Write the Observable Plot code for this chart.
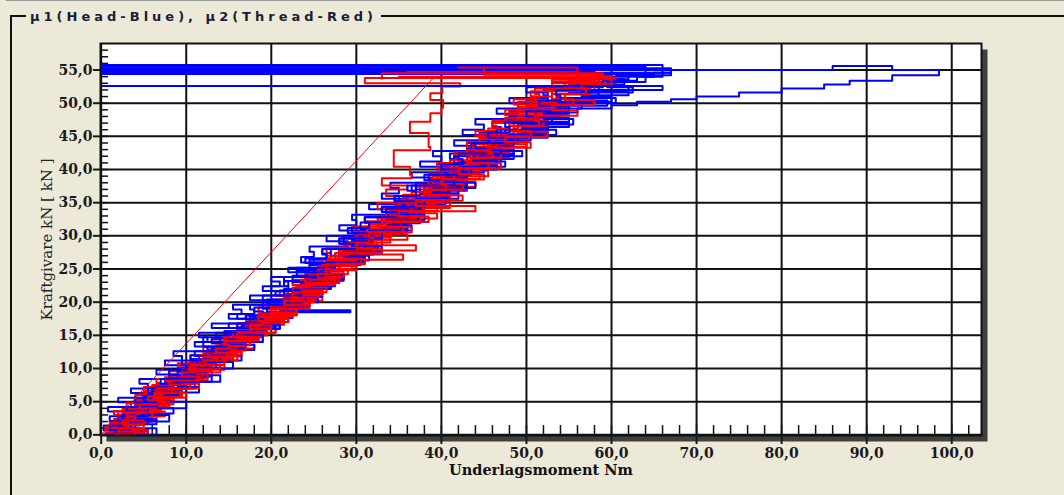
<!DOCTYPE html>
<html><head><meta charset="utf-8">
<script src="https://cdn.jsdelivr.net/npm/d3@7"></script>
<script src="https://cdn.jsdelivr.net/npm/@observablehq/plot@0.6"></script>
<style>
html,body{margin:0;padding:0;background:#ece9d8;}
#wrap{position:relative;width:1064px;height:495px;overflow:hidden;background:#ece9d8;}
#topline{position:absolute;left:6px;top:0;width:1058px;height:1px;background:#9a9a9a;}
#box{position:absolute;left:10px;top:15px;width:1060px;height:490px;border-left:2px solid #111;border-top:2px solid #111;}
#title{position:absolute;left:26px;top:8px;padding:0 4px 0 4px;background:#ece9d8;font:bold 13px "DejaVu Sans";letter-spacing:4px;color:#1c1c38;white-space:nowrap;line-height:18px;}
#chart{position:absolute;left:0;top:0;}
</style>
</head><body>
<div id="wrap">
<div id="topline"></div>
<div id="box"></div>
<div id="title"></div>
<div id="chart"></div>
</div>
<script>
const titleText = "μ1(Head-Blue), μ2(Thread-Red)";
const xTitle = "Underlagsmoment Nm";
const yTitle = "Kraftgivare kN [ kN ]";
const xTicks = [0,10,20,30,40,50,60,70,80,90,100];
const xTickLabels = ["0,0","10,0","20,0","30,0","40,0","50,0","60,0","70,0","80,0","90,0","100,0"];
const yTicks = [0,5,10,15,20,25,30,35,40,45,50,55];
const yTickLabels = ["0,0","5,0","10,0","15,0","20,0","25,0","30,0","35,0","40,0","45,0","50,0","55,0"];
const xMinor = [0,2,4,6,8,10,12,14,16,18,20,22,24,26,28,30,32,34,36,38,40,42,44,46,48,50,52,54,56,58,60,62,64,66,68,70,72,74,76,78,80,82,84,86,88,90,92,94,96,98,100,102];
const yMinor = [0,1,2,3,4,5,6,7,8,9,10,11,12,13,14,15,16,17,18,19,20,21,22,23,24,25,26,27,28,29,30,31,32,33,34,35,36,37,38,39,40,41,42,43,44,45,46,47,48,49,50,51,52,53,54,55,56,57,58];

// Head (blue) traces: [torque Nm, force kN]
const blue1 = [[0,0],[2.5,0.7],[0.3,1.4],[3.5,2.1],[1,2.8],[2.8,3.5],[0.8,4.2],[4,4.9],[2,5.6],[6,6.3],[3.5,7],[5.5,7.7],[4.5,8.4],[9,9.1],[6.5,9.8],[10.5,10.5],[7.5,11.2],[9.5,11.9],[8.5,12.6],[13.5,13.3],[11,14],[12.5,14.7],[11.5,15.4],[16,16.1],[13,16.8],[17.5,17.5],[15,18.2],[16.5,18.9],[15.5,19.6],[20,20.3],[17.5,21],[22.5,21.7],[19,22.4],[21,23.1],[20,23.8],[24.5,24.5],[22,25.2],[26,26],[23.5,26.8],[25,27.6],[24.5,28.4],[29,29.2],[26.5,30],[31,30.8],[28,31.6],[30,32.4],[29.5,33.2],[34.5,34],[31.5,34.8],[36,35.6],[33,36.4],[35,37.2],[34,38],[39,38.8],[36.5,39.6],[41,40.4],[37.5,41.2],[40,42],[39,42.8],[44,43.6],[41.5,44.4],[46,45.2],[42.5,46],[45,46.8],[44,47.6],[49,48.4],[46.5,49.2],[51,50],[48,50.8],[52.5,51.6],[50,52.4],[55,53.2],[53,54],[58,54.8],[0,54.8]];
const blue2 = [[1,0],[4.5,0.6],[1.5,1.2],[3,1.8],[2.5,2.4],[6,3],[3,3.6],[5,4.2],[4,4.8],[8,5.4],[5,6],[9.5,6.6],[6.5,7.2],[8,7.8],[7.5,8.4],[12,9],[9,9.6],[13,10.2],[10,10.8],[11.5,11.4],[10.5,12],[15.5,12.6],[12.5,13.2],[17,13.8],[13,14.4],[15,15],[14.5,15.6],[19,16.2],[16,16.8],[20.5,17.4],[17,18],[19,18.6],[18,19.2],[22.5,19.8],[19.5,20.4],[24,21],[20.5,21.6],[22,22.4],[21.5,23.2],[26,24],[23,24.8],[28,25.6],[24.5,26.4],[26.5,27.2],[26,28],[31,28.8],[28,29.6],[33,30.4],[29.5,31.2],[31.5,32],[31,32.8],[36,33.6],[33,34.4],[38,35.2],[34.5,36],[37,36.8],[36,37.6],[41,38.4],[38,39.2],[43,40],[39.5,40.8],[42,41.6],[41,42.4],[46,43.2],[43,44],[48,44.8],[44.5,45.6],[47,46.4],[46,47.2],[51,48],[48,48.8],[53.5,49.6],[50,50.4],[52.5,51.2],[52,52],[57.5,52.8],[55,53.6],[62,54.4],[64,55.5],[0,55.5]];
const blue3 = [[2,0],[5,0.7],[2.5,1.4],[4.5,2.1],[3.5,2.8],[7,3.5],[4.5,4.2],[8,4.9],[5,5.6],[7,6.3],[6.5,7],[11,7.7],[8,8.4],[12,9.1],[9.5,9.8],[11.5,10.5],[11,11.2],[15.5,11.9],[12.5,12.6],[16.5,13.3],[14,14],[12,14.7],[15,15],[19.5,15.7],[16.5,16.4],[20.5,17.1],[17.5,17.8],[19.5,18.5],[29.3,18.8],[21,19.3],[24.5,20],[21.5,20.7],[23,21.4],[22.5,22.1],[27,22.8],[24,23.5],[28.5,24.2],[25,24.9],[27,25.6],[26.5,26.3],[31.5,27],[28.5,27.7],[32.5,28.4],[29.5,29.1],[31.5,29.8],[31,30.5],[36,31.2],[33,31.9],[37.5,32.6],[34,33.3],[36,34],[35.5,34.8],[40.5,35.6],[37.5,36.4],[42,37.2],[38.5,38],[41,38.8],[40,39.6],[45,40.4],[42,41.2],[47,42],[43.5,42.8],[46,43.6],[45.5,44.4],[50.5,45.2],[47.5,46],[52.5,46.8],[49,47.6],[51.5,48.4],[51,49.2],[56.5,50],[53.5,50.8],[58.5,51.6],[55,52.4],[59,53.2],[58,54],[65,54.6],[67,55.25],[0,55.25]];
const blue4 = [[3,0],[5.5,0.8],[3,1.6],[6.5,2.4],[4.5,3.2],[8.5,4],[5.5,4.8],[7.5,5.6],[7,6.4],[11.5,7.2],[9,8],[13,8.8],[10,9.6],[12.5,10.4],[12,11.2],[16.5,12],[14,12.8],[18,13.6],[15,14.4],[17.5,15.2],[17,16],[21,16.8],[18.5,17.6],[22.5,18.4],[19.5,19.2],[22,20],[21.5,20.8],[26,21.6],[23,22.4],[27.5,23.2],[24.5,24],[26.5,24.8],[26,25.6],[30.5,26.4],[28,27.2],[32,28],[29,28.8],[31.5,29.6],[31,30.4],[35.5,31.2],[33,32],[37.5,32.8],[34,33.6],[36.5,34.4],[36,35.2],[41,36],[38,36.8],[43,37.6],[39.5,38.4],[42,39.2],[41.5,40],[46.5,40.8],[43.5,41.6],[48.5,42.4],[45,43.2],[47.5,44],[47,44.8],[52.5,45.6],[49.5,46.4],[55,47.2],[51,48],[54,48.8],[53.5,49.6],[59.5,50.4],[56.5,51.2],[62,52],[58.5,52.8],[61.5,53.6],[60.5,54.2],[67,54.6],[0,54.6]];
const blue5 = [[4,0],[6.5,1],[3.5,2],[8,3],[5.5,4],[10,5],[7.5,6],[9,7],[8.5,8],[14,9],[11,10],[15.5,11],[12.5,12],[14.5,13],[14,14],[19,15],[16,16],[20.5,17],[17.5,18],[19.5,19],[19,20],[24,21],[21.5,22],[25.5,23],[22.5,24],[25,25],[24.5,26],[29.5,27],[27,28],[31.5,29],[28.5,30],[31,31],[30.5,32],[36,33],[33.5,34],[38,35],[35,36],[37.5,37],[37,38],[42.5,39],[40,40],[44.5,41],[41.5,42],[44,43],[43.5,44],[49,45],[46.5,46],[51.5,47],[48,48],[53,48.6],[56,49.2],[60,49.7],[63,50.2],[67,50.6],[70,51],[75,51.6],[80,52.2],[85,52.8],[88,53.4],[93,54.2],[98.5,55],[93,55.6],[86,55],[0,55]];
const blue6 = [[0.5,0],[3.5,0.7],[1,1.4],[2.5,2.1],[2,2.8],[5.5,3.5],[3,4.2],[6.5,4.9],[4,5.6],[6,6.3],[5.5,7],[9.5,7.7],[7,8.4],[11,9.1],[8,9.8],[10,10.5],[9.5,11.2],[14,11.9],[11,12.6],[15,13.3],[12,14],[14,14.7],[13.5,15.4],[18,16.1],[15,16.8],[19,17.5],[16,18.2],[18,18.9],[17.5,19.6],[22,20.3],[19,21],[23.5,21.7],[20,22.4],[22,23.1],[21.5,23.8],[26,24.5],[23,25.2],[27.5,25.9],[24,26.6],[26.5,27.3],[26,28],[31,28.8],[28,29.6],[33,30.4],[29,31.2],[31.5,32],[31,32.8],[36,33.6],[33,34.4],[38,35.2],[34.5,36],[37,36.8],[36.5,37.6],[41.5,38.4],[38.5,39.2],[43.5,40],[40,40.8],[42.5,41.6],[42,42.4],[47,43.2],[44,44],[49,44.8],[45.5,45.6],[48,46.4],[47.5,47.2],[53,48],[50,48.8],[55,49.6],[51.5,50.4],[54,51.2],[53.5,52],[66,52.6],[0,52.6]];
const blue7 = [[1.5,0.2],[4,0.9],[2,1.6],[5.5,2.3],[2.5,3],[4.5,3.7],[4,4.4],[7.5,5.1],[5,5.8],[9,6.5],[6.5,7.2],[8.5,7.9],[8,8.6],[12.5,9.3],[10,10],[13.5,10.7],[11,11.4],[13,12.1],[12.5,12.8],[17,13.5],[14.5,14.2],[18,14.9],[15.5,15.6],[17.5,16.3],[17,17],[21.5,17.7],[19,18.4],[22.5,19.1],[20,19.8],[22,20.5],[21.5,21.2],[26,22],[23.5,22.8],[27.5,23.6],[24.5,24.4],[27,25.2],[26.5,26],[31,26.8],[28.5,27.6],[33,28.4],[29.5,29.2],[32,30],[31.5,30.8],[36.5,31.6],[33.5,32.4],[38,33.2],[35,34],[37.5,34.8],[37,35.6],[42,36.4],[39,37.2],[44,38],[40.5,38.8],[43,39.6],[42.5,40.4],[47.5,41.2],[44.5,42],[49.5,42.8],[46,43.6],[48.5,44.4],[48,45.2],[53.5,46],[50.5,46.8],[55.5,47.6],[52,48.4],[55,49.2],[54.5,50],[60.5,50.8],[57,51.6],[62.5,52.4],[59.5,53.2],[64,54],[66,55.75],[0,55.75]];
const blue8 = [[1,0],[5,0.5],[2,1],[4,1.5],[1.5,2],[6,2.5],[3.5,3],[5,3.5],[3,4],[7.5,4.5],[4.5,5],[8,5.5],[5.5,6],[7,6.5],[6,7],[10,7.5],[7.5,8],[11,8.5],[8,9],[10,9.5],[9,10],[14,10.5],[10.5,11],[15,11.5],[12,12],[13.5,12.5],[13,13],[17,13.5],[14,14],[18.5,14.5],[15.5,15],[17,15.5],[16,16],[21,16.5],[17.5,17],[22,17.5],[18.5,18],[20.5,18.5],[19.5,19],[24,19.5],[21,20],[25.5,20.5],[21.5,21],[23.5,21.5],[22.5,22],[27,22.7],[24,23.4],[28.5,24.1],[25,24.8],[27,25.5],[26.5,26.2],[31,27],[28,27.8],[32.5,28.6],[29.5,29.4],[31.5,30.2],[31,31],[36,31.8],[33,32.6],[37.5,33.4],[34.5,34.2],[36.5,35],[36,35.8],[41,36.6],[38,37.4],[43,38.2],[39.5,39],[42,39.8],[41.5,40.6],[46.5,41.4],[43.5,42.2],[48.5,43],[45,43.8],[47.5,44.6],[47,45.4],[52.5,46.2],[49.5,47],[55,47.8],[51,48.6],[54,49.4],[53.5,50.2],[60,51],[56.5,51.8],[62,52.6],[59,53.4],[63,54],[65,54.4],[0,54.4]];

// Thread (red) traces
const red1 = [[0,0],[3,0.6],[0.5,1.2],[2,1.8],[1.5,2.4],[4.5,3],[1.5,3.6],[3.5,4.2],[3,4.8],[6.5,5.4],[4,6],[8,6.6],[5,7.2],[7,7.8],[6.5,8.4],[10.5,9],[8,9.6],[12,10.2],[9,10.8],[11,11.4],[10.5,12],[14.5,12.6],[12,13.2],[16,13.8],[13,14.4],[15,15],[14.5,15.6],[18.5,16.2],[16,16.8],[20,17.4],[17,18],[19,18.6],[18.5,19.2],[22.5,19.8],[20,20.4],[24,21],[21,21.8],[23,22.6],[22.5,23.4],[26.5,24.2],[24,25],[28,25.8],[25,26.6],[27,27.4],[26.5,28.2],[31,29],[28.5,29.8],[32,30.6],[29.5,31.4],[33,32.2],[31,33],[35,34],[32.5,35],[36,36],[33.5,37],[36,37.6],[33,38.7],[36.5,39.2],[36.3,40.4],[34.4,42.9],[38.7,43.4],[38.5,45.5],[36.3,47.2],[38.7,48.5],[40,49.3],[40.2,50.5],[38.7,51.5],[40.1,52.5],[42.2,53],[31,53.8],[56,55.2],[40,55.2]];
const red2 = [[1,0],[4.5,0.6],[1.5,1.2],[3,1.8],[2.5,2.4],[5.5,3],[2,3.6],[4,4.2],[3.5,4.8],[7.5,5.4],[5,6],[9,6.6],[6,7.2],[8,7.8],[7.5,8.4],[11.5,9],[9,9.6],[13,10.2],[10,10.8],[12,11.4],[11.5,12],[15.5,12.6],[13,13.2],[17,13.8],[14,14.4],[16,15],[15.5,15.6],[19.5,16.2],[17,16.8],[21,17.4],[18,18],[20,18.6],[19.5,19.2],[23.5,19.8],[21,20.4],[25,21],[22,21.8],[24,22.6],[23.5,23.4],[27.5,24.2],[25,25],[29.5,25.8],[26,26.6],[28.5,27.4],[28,28.2],[32.5,29],[29.5,29.8],[34,30.6],[31,31.4],[33.5,32.2],[33,33],[37.5,33.8],[34.5,34.6],[39,35.4],[35.5,36.2],[38,37],[37.5,37.8],[41.5,38.6],[38.5,39.4],[43,40.2],[39.5,41],[42,41.8],[41.5,42.6],[46,43.4],[43,44.2],[47.5,45],[44,45.8],[46.5,46.6],[46,47.4],[50.5,48.2],[47.5,49],[52,49.8],[48.5,50.6],[51.5,51.4],[51,52.2],[55.5,53],[53,53.6],[58,54.2],[60,55.3],[39.5,55.3]];
const red3 = [[2,0],[5.4,0.5],[2.5,1],[4,1.6],[3.5,2.2],[6.5,2.8],[3.5,3.4],[5.5,4],[5,4.6],[8.5,5.2],[6,5.8],[9.5,6.4],[7,7],[9,7.6],[8.5,8.2],[12.5,8.8],[10,9.4],[14,10],[11,10.6],[13,11.2],[12.5,11.8],[16.5,12.4],[14,13],[18,13.6],[15,14.2],[17,14.8],[16.5,15.4],[20.5,16],[18,16.6],[21.5,17.2],[19,17.8],[21,18.4],[20.5,19],[24.5,19.6],[22,20.2],[26,20.8],[23,21.6],[25,22.4],[24.5,23.2],[28.5,24],[26,24.8],[30,25.6],[27,26.4],[35.5,27.2],[30,27.8],[37,28.6],[33,29.4],[36,30.2],[32,31],[35,31.8],[34.5,32.6],[39.5,33.4],[36.5,34.2],[41,35],[37.5,35.8],[40,36.6],[39.5,37.4],[44,38.2],[41,39],[45.5,39.8],[42,40.6],[44.5,41.4],[44,42.2],[48.5,43],[45.5,43.8],[50,44.6],[46.5,45.4],[49,46.2],[48.5,47],[53,47.8],[50,48.6],[55,49.4],[51.5,50.2],[54,51],[53.5,51.8],[58,52.6],[55.5,53.3],[60,54],[35,54]];
const red4 = [[3,0],[5.5,0.7],[2,1.4],[4,2.1],[3.5,2.8],[7.5,3.5],[4.5,4.2],[6.5,4.9],[6,5.6],[10,6.3],[7.5,7],[11.5,7.7],[8.5,8.4],[10.5,9.1],[10,9.8],[14.5,10.5],[12,11.2],[16,11.9],[13,12.6],[15,13.3],[14.5,14],[19,14.7],[16,15.4],[20.5,16.1],[17.5,16.8],[19.5,17.5],[19,18.2],[23,18.9],[20.5,19.6],[24.5,20.3],[21.5,21],[23.5,21.8],[23,22.6],[27.5,23.4],[25,24.2],[29,25],[26,25.8],[28,26.6],[27.5,27.4],[32,28.2],[29.5,29],[34,29.8],[30.5,30.6],[33,31.4],[32.5,32.2],[37.5,33],[34.5,33.8],[39.5,34.6],[36,35.4],[38.5,36.2],[38,37],[43,37.8],[40,38.6],[44.5,39.4],[41,40.2],[43.5,41],[43,41.8],[48,42.6],[45,43.4],[50,44.2],[46,45],[48.5,45.8],[48,46.6],[52.5,47.4],[49.5,48.2],[54.5,49],[51,49.8],[53.5,50.6],[53,51.4],[57.5,52.2],[55,53],[60.5,53.8],[58,54.4],[38,54.6]];
const red5 = [[0.5,0.3],[5,0.9],[1,1.5],[2.5,2.1],[2,2.7],[6,3.3],[2.5,3.9],[4.5,4.5],[4,5.1],[7.5,5.7],[5,6.3],[9,6.9],[6,7.5],[8,8.1],[7.5,8.7],[12,9.3],[9.5,9.9],[13.5,10.5],[10.5,11.1],[12.5,11.7],[12,12.3],[16,12.9],[13.5,13.5],[17.5,14.1],[14.5,14.7],[16.5,15.3],[16,15.9],[20,16.5],[17.5,17.1],[21.5,17.7],[18.5,18.3],[20.5,18.9],[20,19.5],[24,20.1],[21.5,20.7],[25.5,21.4],[22.5,22.2],[24.5,23],[24,23.8],[28.5,24.6],[25.5,25.4],[30,26.2],[26.5,27],[29,27.8],[28.5,28.6],[33,29.4],[30,30.2],[35,31],[31.5,31.8],[34,32.6],[33.5,33.4],[38,34.2],[35,35],[40,35.8],[36.5,36.6],[39,37.4],[38.5,38.2],[43,39],[40,39.8],[44.5,40.6],[41,41.4],[43.5,42.2],[43,43],[47.5,43.8],[44.5,44.6],[49,45.4],[45.5,46.2],[48,47],[47.5,47.8],[52,48.6],[49,49.4],[53.5,50.2],[50.5,51],[53,51.8],[52.5,52.6],[57,53.3],[55,53.9],[59,54.5],[33,53.7]];
const red6 = [[1.5,0.1],[4,0.8],[1,1.5],[5,2.2],[3,2.9],[4.5,3.6],[4,4.3],[8,5],[5.5,5.7],[9.5,6.4],[6.5,7.1],[8.5,7.8],[8,8.5],[12.5,9.2],[10,9.9],[14,10.6],[11,11.3],[13,12],[12.5,12.7],[17,13.4],[14.5,14.1],[18,14.8],[15.5,15.5],[17.5,16.2],[17,16.9],[21.5,17.6],[19,18.3],[23,19],[20,19.7],[22,20.4],[21.5,21.1],[26,21.8],[23.5,22.6],[27.5,23.4],[24.5,24.2],[26.5,25],[26,25.8],[30.5,26.6],[28,27.4],[32,28.2],[29,29],[31.5,29.8],[31,30.6],[35.5,31.4],[33,32.2],[37.5,33],[34,33.8],[36.5,34.6],[36,35.4],[41,36.2],[38,37],[42.5,37.8],[39,38.6],[41.5,39.4],[41,40.2],[45.5,41],[43,41.8],[47,42.6],[44,43.4],[46.5,44.2],[46,45],[50.5,45.8],[48,46.6],[52,47.4],[49,48.2],[51.5,49],[51,49.8],[55.5,50.6],[53,51.4],[57,52.2],[54.5,53],[58.5,53.6],[56,55.4],[42,55.4]];
const red7 = [[0.5,0.2],[4.5,0.6],[1.5,1],[3,1.4],[1,1.8],[5.5,2.2],[2.5,2.6],[4,3],[3.5,3.4],[7,3.8],[4,4.2],[6,4.6],[5,5],[8.5,5.5],[6,6],[9.5,6.5],[7,7],[8.5,7.5],[8,8],[12,8.5],[9.5,9],[13,9.5],[10.5,10],[12,10.5],[11.5,11],[15.5,11.5],[12.5,12],[16.5,12.5],[13.5,13],[15,13.5],[14.5,14],[18.5,14.5],[16,15],[19.5,15.5],[16.5,16],[18.5,16.5],[18,17],[22,17.5],[19,18],[23,18.5],[20,19],[21.5,19.5],[21,20],[25,20.6],[22,21.2],[26,21.8],[23,22.4],[24.5,23],[24,23.6],[28,24.3],[25.5,25],[29.5,25.7],[26.5,26.4],[28.5,27.1],[28,27.8],[32.5,28.6],[30,29.4],[34,30.2],[31,31],[33,31.8],[32.5,32.6],[37,33.4],[34.5,34.2],[38.5,35],[35.5,35.8],[37.5,36.6],[37,37.4],[41.5,38.2],[39,39],[43,39.8],[40,40.6],[42,41.4],[41.5,42.2],[46,43],[43.5,43.8],[47.5,44.6],[44.5,45.4],[46.5,46.2],[46,47],[50.5,47.8],[48,48.6],[52,49.4],[49,50.2],[51,51],[50.5,51.8],[55,52.6],[53,53.3],[57.5,54],[56,54.8],[36,54.8]];
const red8 = [[1.5,0],[4,0.5],[2,1],[5,1.6],[2.5,2.2],[4,2.8],[3,3.4],[6.5,4],[4.5,4.6],[7.5,5.2],[5.5,5.8],[7,6.4],[6.5,7],[10.5,7.6],[8,8.2],[11.5,8.8],[9.5,9.4],[11,10],[10.5,10.6],[14.5,11.2],[12,11.8],[15.5,12.4],[13.5,13],[15,13.6],[14.5,14.2],[18.5,14.8],[16,15.4],[19.5,16],[17.5,16.6],[19,17.2],[18.5,17.8],[22.5,18.4],[20,19],[24,19.6],[21.5,20.2],[23,20.8],[22.5,21.5],[26.5,22.2],[24,22.9],[28,23.6],[25.5,24.3],[27,25],[26.5,25.7],[31,26.5],[28.5,27.3],[33,28.1],[30,28.9],[32,29.7],[31.5,30.5],[36.5,31.3],[33.5,32.1],[38.5,32.9],[35,33.7],[44,34.5],[37,35.3],[42.5,36.1],[38.5,36.9],[40.5,37.7],[40,38.5],[45,39.3],[42,40.1],[47,40.9],[43.5,41.7],[46,42.5],[45.5,43.3],[50.5,44.1],[47.5,44.9],[52.5,45.7],[49,46.5],[51.5,47.3],[51,48.1],[56,48.9],[53,49.7],[58,50.5],[54.5,51.3],[57,52.1],[56.5,52.9],[60,53.6],[59,54.3],[45,55.1]];
const redDiag = [[0,0],[39.2,54]];

const traces = [
  [blue1,"#0000ff"],[red1,"#ff0000"],[blue2,"#0000ff"],[red2,"#ff0000"],
  [blue3,"#0000ff"],[red3,"#ff0000"],[blue4,"#0000ff"],[red4,"#ff0000"],
  [blue8,"#0000ff"],[red7,"#ff0000"],
  [blue5,"#0000ff"],[red5,"#ff0000"],[blue7,"#0000ff"],[red6,"#ff0000"],
  [blue6,"#0000ff"],[red8,"#ff0000"]
];

document.getElementById("title").textContent = titleText;

const xDomain = [-0.08, 103.5];
const yDomain = [-0.1, 59];
const minorLenY = 1.5;   // x-axis minor tick length, in kN
const minorLenX = 0.95;  // y-axis minor tick length, in Nm

const chart = Plot.plot({
  width: 1064, height: 495,
  marginLeft: 100, marginRight: 83, marginTop: 43, marginBottom: 60,
  x: {domain: xDomain},
  y: {domain: yDomain},
  style: {background: "transparent", overflow: "visible", fontFamily: "DejaVu Serif", fontSize: "14px", fontWeight: "bold", color: "#1a1a1a"},
  marks: [
    Plot.frame({fill: "#404040", stroke: "none", dx: 6, dy: 6}),
    Plot.frame({fill: "white", stroke: "none"}),
    Plot.ruleX(xTicks, {x: d => d, stroke: "#111", strokeWidth: 2}),
    Plot.ruleY(yTicks, {y: d => d, stroke: "#111", strokeWidth: 2}),
    Plot.ruleX(xMinor, {x: d => d, y1: yDomain[0], y2: yDomain[0] + minorLenY, stroke: "#111", strokeWidth: 1.5}),
    Plot.ruleY(yMinor, {y: d => d, x1: xDomain[0], x2: xDomain[0] + minorLenX, stroke: "#111", strokeWidth: 1.5}),
    ...traces.map(([s, c]) => Plot.line(s, {x: d => d[0], y: d => d[1], stroke: c, strokeWidth: 2, curve: "step-after"})),
    Plot.line(redDiag, {x: d => d[0], y: d => d[1], stroke: "#ff0000", strokeWidth: 1}),
    Plot.frame({stroke: "#111", strokeWidth: 2, fill: "none"}),
    Plot.axisX(xTicks, {anchor: "bottom", tickSize: 9, tickPadding: 4, strokeWidth: 2, tickFormat: d => xTickLabels[xTicks.indexOf(d)], label: null}),
    Plot.axisY(yTicks, {anchor: "left", tickSize: 7, tickPadding: 1, strokeWidth: 2, tickFormat: d => yTickLabels[yTicks.indexOf(d)], label: null}),
    Plot.text([xTitle], {frameAnchor: "bottom", textAnchor: "middle", lineAnchor: "middle", dy: 34.4, fontSize: 14.5, fontWeight: "bold", fill: "#111"}),
    Plot.text([yTitle], {frameAnchor: "left", textAnchor: "middle", lineAnchor: "middle", dx: -53, rotate: -90, fontSize: 15, fontWeight: "normal", fill: "#222"})
  ]
});
document.getElementById("chart").appendChild(chart);
</script>
</body></html>
